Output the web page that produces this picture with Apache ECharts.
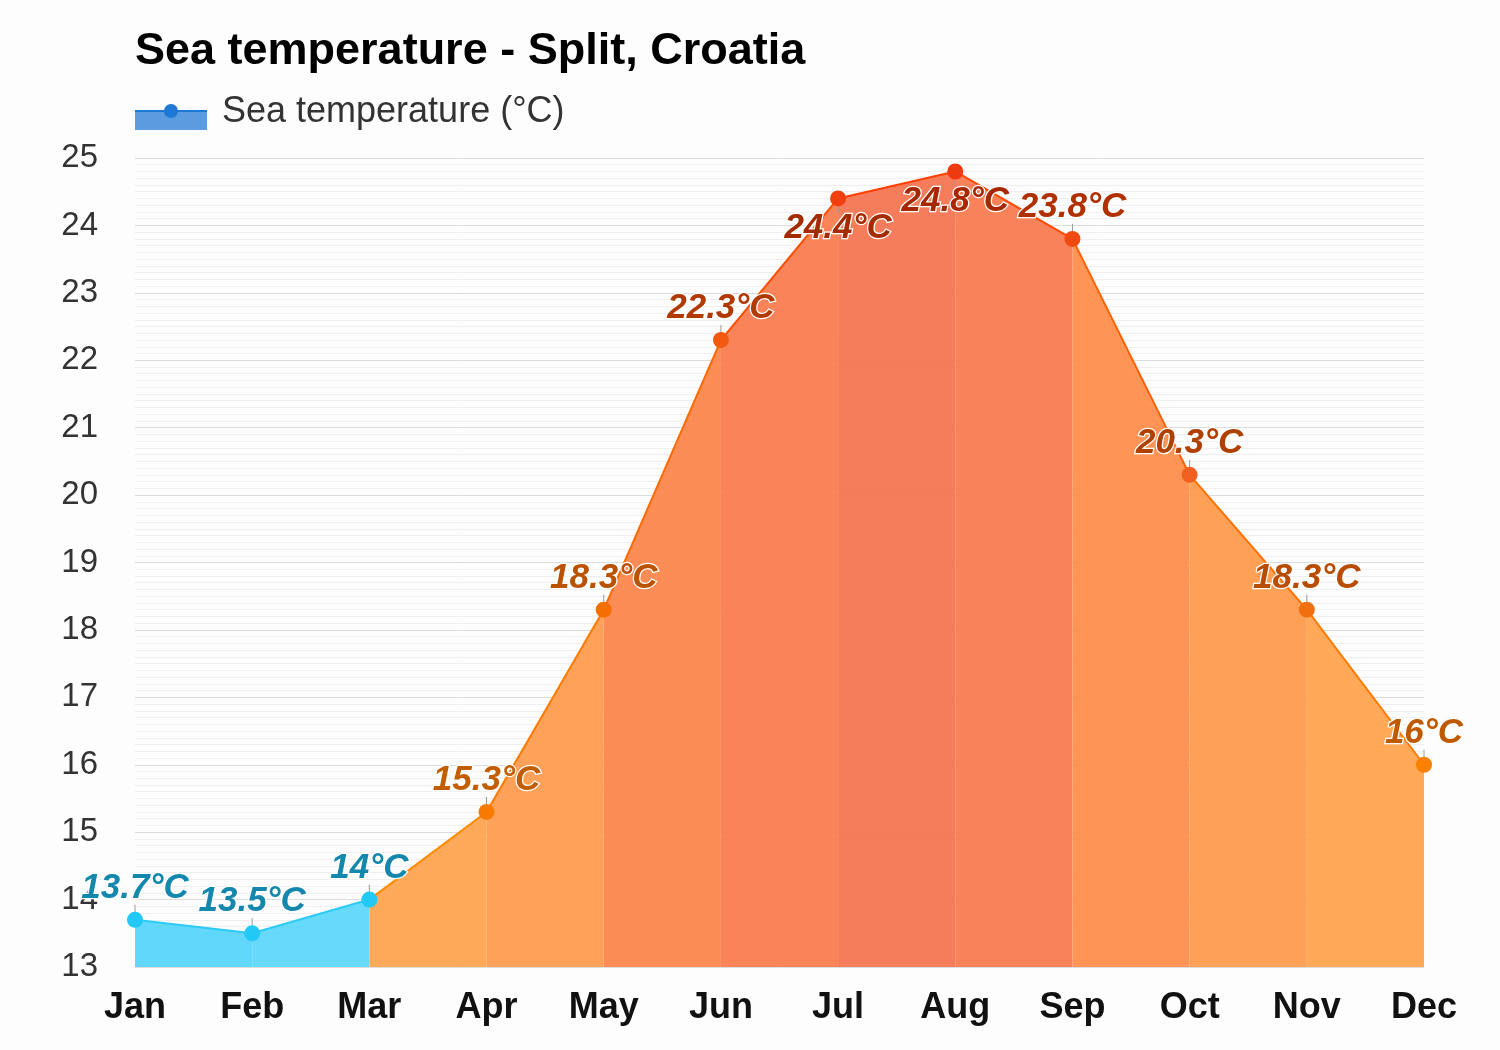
<!DOCTYPE html>
<html>
<head>
<meta charset="utf-8">
<script src="https://cdn.jsdelivr.net/npm/echarts@6/dist/echarts.min.js"></script>
<style>
html,body{margin:0;padding:0;background:#fdfdfd;}
#chart{width:1500px;height:1050px;}
</style>
</head>
<body>
<div id="chart"></div>
<script>
// ---- data ----
const months = ['Jan','Feb','Mar','Apr','May','Jun','Jul','Aug','Sep','Oct','Nov','Dec'];
const seaTemp = [13.7, 13.5, 14, 15.3, 18.3, 22.3, 24.4, 24.8, 23.8, 20.3, 18.3, 16];
const yTicks = [13,14,15,16,17,18,19,20,21,22,23,24,25];
const titleText = 'Sea temperature - Split, Croatia';
const legendText = 'Sea temperature (°C)';

// ---- styles ----
const FONT = 'Liberation Sans, Arial, sans-serif';
const segFill = ['#55D4FC','#5BD7FB','#FFA44E','#FE9A4C','#FC844A','#F97B4C','#F5734F','#F8784D','#FE8C49','#FE9A4A','#FFA24C'];
const segLine = ['#2CCBF7','#2CCBF7','#FF8A00','#FF7A00','#FF6A00','#FF4D00','#FF4000','#FF4A00','#FF6000','#FF7000','#FF7A00'];
const pointColor = ['#22C8F6','#22C8F6','#22C8F6','#F77A00','#F56F00','#F35A10','#F04010','#EE3A10','#F04A10','#F06020','#F07010','#F98000'];
const labelColor = ['#1488AC','#1488AC','#1488AC','#C25E00','#BA5200','#B03A00','#A62A00','#A62800','#B03000','#B04000','#B84C00','#C05A00'];
const labelsBelow = new Set(['Jul','Aug']);

const series = [];
for (let k = 0; k < months.length - 1; k++) {
  series.push({
    type: 'line',
    name: 'seg' + k,
    data: seaTemp.map((v, i) => (i === k || i === k + 1) ? v : null),
    showSymbol: false,
    connectNulls: false,
    silent: true,
    z: 2,
    lineStyle: { color: segLine[k], width: 2 },
    areaStyle: { color: segFill[k], opacity: 0.93 },
    emphasis: { disabled: true }
  });
}

// small connector ticks between point and label
series.push({
  type: 'custom',
  name: 'ticks',
  silent: true,
  z: 4,
  data: seaTemp.map((v, i) => [i, v]),
  renderItem: function (params, api) {
    const p = api.coord([api.value(0), api.value(1)]);
    const dir = labelsBelow.has(months[params.dataIndex]) ? 1 : -1;
    return {
      type: 'line',
      shape: { x1: p[0], y1: p[1], x2: p[0], y2: p[1] + dir * 15 },
      style: { stroke: '#999', lineWidth: 1 }
    };
  }
});

series.push({
  type: 'scatter',
  name: legendText,
  z: 5,
  symbolSize: 16,
  emphasis: { disabled: true },
  data: seaTemp.map((v, i) => ({
    value: [months[i], v],
    itemStyle: { color: pointColor[i], opacity: 1 },
    label: {
      show: true,
      position: labelsBelow.has(months[i]) ? 'bottom' : 'top',
      distance: labelsBelow.has(months[i]) ? 4 : 6,
      formatter: (v + '°C'),
      color: labelColor[i],
      fontSize: 35,
      fontWeight: 'bold',
      fontStyle: 'italic',
      fontFamily: FONT,
      textBorderColor: '#ffffff',
      textBorderWidth: 2.5
    }
  }))
});

const chart = echarts.init(document.getElementById('chart'), null, { renderer: 'canvas' });
chart.setOption({
  backgroundColor: '#fdfdfd',
  animation: false,
  title: {
    text: titleText,
    left: 130,
    top: 24,
    textStyle: { fontSize: 45, fontWeight: 'bold', color: '#000', fontFamily: FONT }
  },
  graphic: [
    { type: 'rect', shape: { x: 135, y: 110, width: 72, height: 20 }, style: { fill: '#5B9BE0' } },
    { type: 'line', shape: { x1: 135, y1: 111, x2: 207, y2: 111 }, style: { stroke: '#1E78D6', lineWidth: 2 } },
    { type: 'circle', shape: { cx: 171, cy: 111, r: 7 }, style: { fill: '#1E78D6' } },
    { type: 'text', left: 222, top: 94, style: { text: legendText, fontSize: 36, fill: '#333', fontFamily: FONT } }
  ],
  grid: { left: 135, right: 76, top: 158, bottom: 83, containLabel: false },
  xAxis: {
    type: 'category',
    data: months,
    boundaryGap: false,
    axisLine: { show: false },
    axisTick: { show: false },
    axisLabel: { fontSize: 36, fontWeight: 'bold', color: '#111', margin: 23, fontFamily: FONT },
    splitLine: { show: false }
  },
  yAxis: {
    type: 'value',
    min: yTicks[0],
    max: yTicks[yTicks.length - 1],
    interval: 1,
    axisLine: { show: false },
    axisTick: { show: false },
    axisLabel: { fontSize: 33, color: '#333', margin: 37, fontFamily: FONT },
    splitLine: { show: true, lineStyle: { color: '#dcdcdc', width: 1 } },
    minorTick: { show: false, splitNumber: 10 },
    minorSplitLine: { show: true, lineStyle: { color: '#efefef', width: 1 } }
  },
  series: series
});
</script>
</body>
</html>
